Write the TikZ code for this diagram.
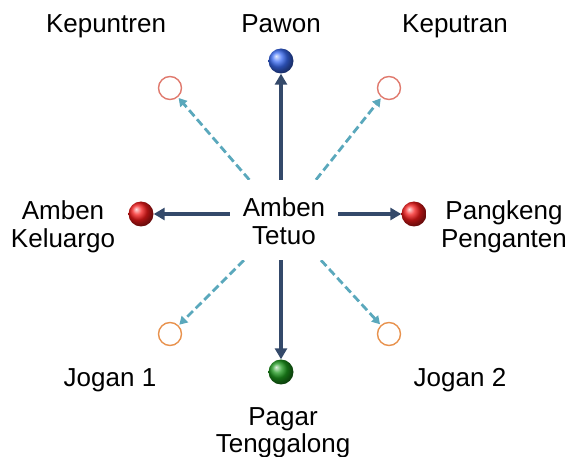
\documentclass[tikz,border=0pt]{standalone}
\usepackage{fontspec}
\setmainfont{Liberation Sans}
\usetikzlibrary{arrows.meta}
\definecolor{navyline}{HTML}{34496A}
\definecolor{tealdash}{HTML}{5AA8BC}
\definecolor{salmonring}{HTML}{E07A6E}
\definecolor{orangering}{HTML}{E8924E}
\definecolor{ballblue}{HTML}{3A6CF5}
\definecolor{ballred}{HTML}{F51A1A}
\definecolor{ballgreen}{HTML}{1E9A1E}
\tikzset{
  lbl/.style={font=\fontsize{26}{28}\selectfont, inner sep=0pt, align=center},
  ball/.style={circle, minimum size=25pt, inner sep=0pt, shading=ball, ball color=#1},
  ring/.style={circle, minimum size=23pt, inner sep=0pt, draw=#1, line width=1.4pt, fill=white},
  mainarrow/.style={draw=navyline, line width=3.6pt, -{Triangle[length=11pt,width=12pt]}},
  sidearrow/.style={draw=tealdash, line width=2.8pt, dash pattern=on 8pt off 4pt, -{Triangle[length=8pt,width=9pt]}, shorten >=1pt}
}
\begin{document}
\begin{tikzpicture}[x=1pt,y=-1pt]
  \useasboundingbox (0,0) rectangle (571,457);

  % markers round the centre
  \node[ball=ballblue]  (pawon)  at (281,61)  {};
  \node[ball=ballred]   (keluar) at (141,214) {};
  \node[ball=ballred]   (kamar)  at (414,214) {};
  \node[ball=ballgreen] (pagar)  at (281,372) {};
  \node[ring=salmonring] (kpt)   at (170,88)  {};
  \node[ring=salmonring] (kpr)   at (389,88)  {};
  \node[ring=orangering] (jg1)   at (170,334) {};
  \node[ring=orangering] (jg2)   at (389,334) {};

  % centre box (outline only, for anchoring the connectors)
  \node[minimum width=100pt, minimum height=80pt, inner sep=0pt] (ctr) at (284,220) {};

  % diagonal dashed connectors
  \draw[sidearrow] (ctr) -- (kpt);
  \draw[sidearrow] (ctr) -- (kpr);
  \draw[sidearrow] (ctr) -- (jg1);
  \draw[sidearrow] (ctr) -- (jg2);

  % white plate with the centre label
  \node[fill=white, minimum width=108pt, minimum height=80pt, inner sep=0pt] (plate) at (ctr) {};
  \node[lbl, anchor=base] (ctrtxt) at (284,245) {Amben\\Tetuo};

  % main solid connectors
  \draw[mainarrow] (plate.north -| pawon) -- (pawon);
  \draw[mainarrow] (plate.south -| pagar) -- (pagar);
  \draw[mainarrow] (plate.west |- keluar) -- (keluar);
  \draw[mainarrow] (plate.east |- kamar) -- (kamar);

  % labels
  \node[lbl, anchor=base] (t1) at (106,33)  {Kepuntren};
  \node[lbl, anchor=base] (t2) at (281,33)  {Pawon};
  \node[lbl, anchor=base] (t3) at (455,33)  {Keputran};
  \node[lbl, anchor=base] (t4) at (63,248)  {Amben\\Keluargo};
  \node[lbl, anchor=base] (t5) at (504,248) {Pangkeng\\Penganten};
  \node[lbl, anchor=base] (t6) at (110,387) {Jogan 1};
  \node[lbl, anchor=base] (t7) at (460,387) {Jogan 2};
  \node[lbl, anchor=base] (t8) at (283,453) {Pagar\\Tenggalong};
\end{tikzpicture}
\end{document}
